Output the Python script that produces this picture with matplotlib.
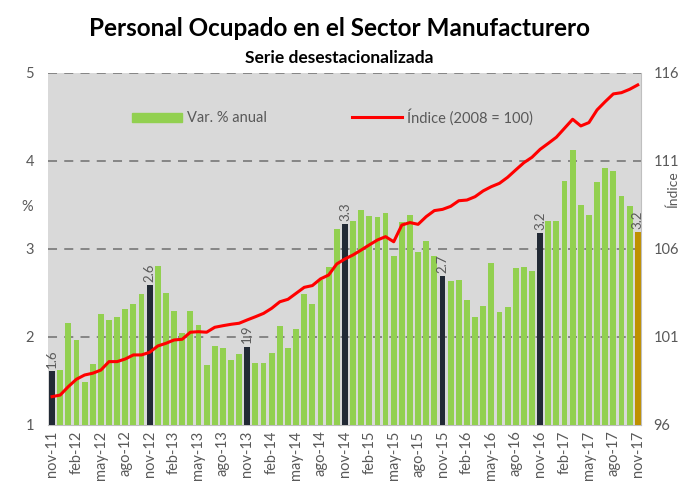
import numpy as np
import matplotlib.pyplot as plt
from matplotlib.patches import Patch
from matplotlib.lines import Line2D

plt.rcParams['font.family'] = ['Lato', 'DejaVu Sans']

# Monthly data nov-11 .. nov-17
months = ['ene', 'feb', 'mar', 'abr', 'may', 'jun', 'jul', 'ago', 'sep', 'oct', 'nov', 'dic']
labels = []
for i in range(73):
    m = (10 + i) % 12
    y = 11 + (10 + i) // 12
    labels.append('{}-{}'.format(months[m], y))

var_anual = [1.61, 1.63, 2.16, 1.96, 1.49, 1.69, 2.26, 2.19, 2.23, 2.32, 2.38, 2.49,
             2.59, 2.81, 2.50, 2.29, 2.05, 2.30, 2.14, 1.68, 1.90, 1.88, 1.74, 1.81,
             1.89, 1.70, 1.70, 1.82, 2.13, 1.87, 2.09, 2.49, 2.38, 2.65, 2.80, 3.23,
             3.28, 3.32, 3.44, 3.38, 3.36, 3.41, 2.92, 3.31, 3.39, 2.96, 3.09, 2.92,
             2.69, 2.64, 2.65, 2.42, 2.23, 2.35, 2.84, 2.28, 2.34, 2.78, 2.79, 2.75,
             3.18, 3.32, 3.32, 3.77, 4.13, 3.50, 3.39, 3.76, 3.92, 3.89, 3.60, 3.49,
             3.19]

indice = [97.61, 97.70, 98.18, 98.60, 98.84, 98.94, 99.12, 99.60, 99.60, 99.75, 99.98, 99.98,
          100.13, 100.49, 100.64, 100.83, 100.87, 101.27, 101.30, 101.27, 101.55, 101.64, 101.72, 101.78,
          101.97, 102.15, 102.34, 102.63, 103.00, 103.14, 103.48, 103.82, 103.92, 104.30, 104.52, 105.15,
          105.43, 105.66, 105.94, 106.23, 106.51, 106.70, 106.41, 107.36, 107.50, 107.40, 107.84, 108.18,
          108.25, 108.42, 108.74, 108.78, 108.97, 109.30, 109.54, 109.73, 110.07, 110.49, 110.90, 111.21,
          111.66, 112.00, 112.35, 112.86, 113.37, 112.99, 113.18, 113.90, 114.37, 114.81, 114.88, 115.07,
          115.32]

dark_idx = [0, 12, 24, 36, 48, 60]
gold_idx = [72]

green = '#92d050'
dark = '#222a35'
gold = '#bf9000'
gray_txt = '#595959'

colors = [green] * len(var_anual)
for i in dark_idx:
    colors[i] = dark
for i in gold_idx:
    colors[i] = gold

x = np.arange(len(var_anual))

fig = plt.figure(figsize=(6.79, 4.90), dpi=100)
ax = fig.add_axes([0.0707, 0.1327, 0.8733, 0.7184])
ax.set_facecolor('#d9d9d9')

ax.bar(x, np.array(var_anual) - 1, bottom=1, width=0.72, color=colors, zorder=3)
for i in dark_idx + gold_idx:
    ax.text(x[i], var_anual[i] + 0.04, '{:.1f}'.format(var_anual[i]), rotation=90,
            ha='center', va='bottom', fontsize=9.5, color=gray_txt, zorder=4)

ax.set_ylim(1, 5)
ax.set_yticks([1, 2, 3, 4, 5])
ax.set_xlim(-0.5, 72.4)
ax.set_xticks(x[::3])
ax.set_xticklabels(labels[::3], rotation=90, fontsize=10.5, color=gray_txt)
ax.tick_params(axis='y', labelsize=10.5, colors=gray_txt, length=0, pad=10)
ax.tick_params(axis='x', length=0, pad=4)
for v in [2, 3, 4, 5]:
    ax.axhline(v, color='#7f7f7f', linestyle=(0, (5, 4)), linewidth=1.3, zorder=2)
for s in ['top', 'right', 'left']:
    ax.spines[s].set_visible(False)
ax.spines['bottom'].set_color('#bfbfbf')
ax.set_ylabel('%', rotation=0, fontsize=10.5, color=gray_txt)
ax.yaxis.set_label_coords(-0.035, 0.60)

ax2 = ax.twinx()
ax2.plot(x, indice, color='#ff0000', linewidth=2.2, zorder=5)
ax2.set_ylim(96, 116)
ax2.set_yticks([96, 101, 106, 111, 116])
ax2.tick_params(axis='y', labelsize=10.5, colors=gray_txt, length=0, pad=9)
for s in ['top', 'left', 'bottom']:
    ax2.spines[s].set_visible(False)
ax2.spines['right'].set_color('#bfbfbf')
ax2.set_ylabel('Índice', fontsize=10, color=gray_txt)
ax2.yaxis.set_label_coords(1.043, 0.67)

# legend
handles = [Patch(color=green, label='Var. % anual'),
           Line2D([0], [0], color='#ff0000', linewidth=2.2, label='Índice (2008 = 100)')]
ax2.legend(handles=handles, loc='center', bbox_to_anchor=(0.48, 0.875), ncol=2,
           frameon=False, fontsize=10.5, labelcolor=gray_txt, handlelength=3.4,
           handletextpad=0.4, columnspacing=5.8, handleheight=0.6)

fig.text(0.5, 0.942, 'Personal Ocupado en el Sector Manufacturero', ha='center', va='center',
         fontsize=17.5, fontweight='bold')
fig.text(0.5, 0.882, 'Serie desestacionalizada', ha='center', va='center',
         fontsize=12.5, fontweight='bold')

fig.savefig('out.png', dpi=100)
